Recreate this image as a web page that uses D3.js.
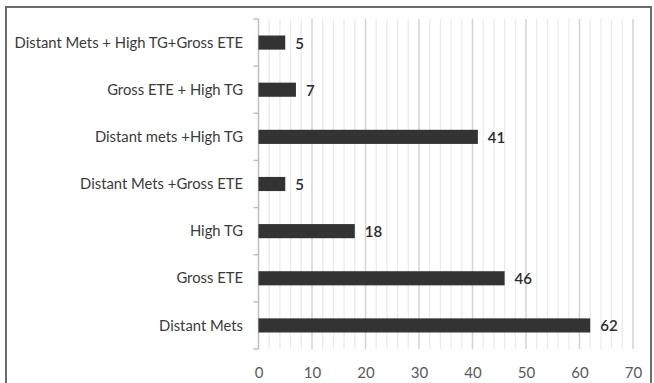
<!DOCTYPE html>
<html>
<head>
<meta charset="utf-8">
<script src="https://cdn.jsdelivr.net/npm/d3@7"></script>
<style>
  body { margin: 0; background: #fff; }
  svg { display: block; font-family: Lato, "Open Sans", sans-serif; }
</style>
</head>
<body>
<svg width="654" height="383"></svg>
<script>
// categories, top to bottom
var categories = [
    "Distant Mets + High TG+Gross ETE",
    "Gross ETE + High TG",
    "Distant mets +High TG",
    "Distant Mets +Gross ETE",
    "High TG",
    "Gross ETE ",
    "Distant Mets"
];
var counts = [5, 7, 41, 5, 18, 46, 62];
var xTicks = [0, 10, 20, 30, 40, 50, 60, 70];
var minorTicks = d3.range(0, 71, 2);

var data = categories.map(function (c, i) {
    return { name: c, value: counts[i] };
});

var svg = d3.select("svg");

// outer frame
svg.append("rect")
    .attr("x", 6).attr("y", 7)
    .attr("width", 645).attr("height", 400)
    .attr("fill", "none")
    .attr("stroke", "#6b6b6b")
    .attr("stroke-width", 2);

var plotLeft = 258.5, plotRight = 633, plotTop = 19, plotBottom = 349;

var x = d3.scaleLinear().domain([0, 70]).range([plotLeft, plotRight]);
var y = d3.scaleBand().domain(categories).range([plotTop, plotBottom]).paddingInner(0.7).paddingOuter(0.35);

// minor gridlines
svg.append("g")
    .selectAll("line")
    .data(minorTicks.filter(function (d) { return d % 10 !== 0; }))
    .enter()
    .append("line")
    .attr("x1", function (d) { return x(d); })
    .attr("x2", function (d) { return x(d); })
    .attr("y1", plotTop)
    .attr("y2", plotBottom)
    .attr("stroke", "#ebebeb")
    .attr("stroke-width", 1.3);

// major gridlines
svg.append("g")
    .selectAll("line")
    .data(xTicks.slice(1))
    .enter()
    .append("line")
    .attr("x1", function (d) { return x(d); })
    .attr("x2", function (d) { return x(d); })
    .attr("y1", plotTop)
    .attr("y2", plotBottom)
    .attr("stroke", "#d4d4d4")
    .attr("stroke-width", 1.5);

// x tick labels
svg.append("g")
    .attr("transform", "translate(0," + plotBottom + ")")
    .call(d3.axisBottom(x).tickValues(xTicks).tickSize(0).tickPadding(18))
    .call(function (g) { g.select(".domain").remove(); })
    .selectAll("text")
    .attr("font-family", "Lato, 'Open Sans', sans-serif")
    .attr("font-size", 15)
    .attr("fill", "#595959");

// y axis with category-boundary ticks
var yAxis = svg.append("g").attr("transform", "translate(" + plotLeft + ",0)");
yAxis.append("line")
    .attr("x1", 0).attr("x2", 0)
    .attr("y1", plotTop).attr("y2", plotBottom)
    .attr("stroke", "#bfbfbf")
    .attr("stroke-width", 1.5);
var step = (plotBottom - plotTop) / categories.length;
yAxis.selectAll(".bt")
    .data(d3.range(categories.length + 1))
    .enter()
    .append("line")
    .attr("x1", -5).attr("x2", 0)
    .attr("y1", function (i) { return plotTop + i * step; })
    .attr("y2", function (i) { return plotTop + i * step; })
    .attr("stroke", "#bfbfbf")
    .attr("stroke-width", 1.5);

// category labels
svg.append("g")
    .selectAll("text")
    .data(data)
    .enter()
    .append("text")
    .attr("x", 243)
    .attr("y", function (d) { return y(d.name) + y.bandwidth() / 2; })
    .attr("dy", "0.35em")
    .attr("text-anchor", "end")
    .attr("font-size", 14.8)
    .attr("fill", "#3a3a3a")
    .text(function (d) { return d.name; });

// bars
svg.append("g")
    .selectAll("rect")
    .data(data)
    .enter()
    .append("rect")
    .attr("x", x(0))
    .attr("y", function (d) { return y(d.name); })
    .attr("width", function (d) { return x(d.value) - x(0); })
    .attr("height", y.bandwidth())
    .attr("fill", "#333333");

// value labels
svg.append("g")
    .selectAll("text")
    .data(data)
    .enter()
    .append("text")
    .attr("x", function (d) { return x(d.value) + 10; })
    .attr("y", function (d) { return y(d.name) + y.bandwidth() / 2; })
    .attr("dy", "0.4em")
    .attr("font-size", 15)
    .attr("font-weight", 600)
    .attr("fill", "#2b2b2b")
    .text(function (d) { return d.value; });
</script>
</body>
</html>
